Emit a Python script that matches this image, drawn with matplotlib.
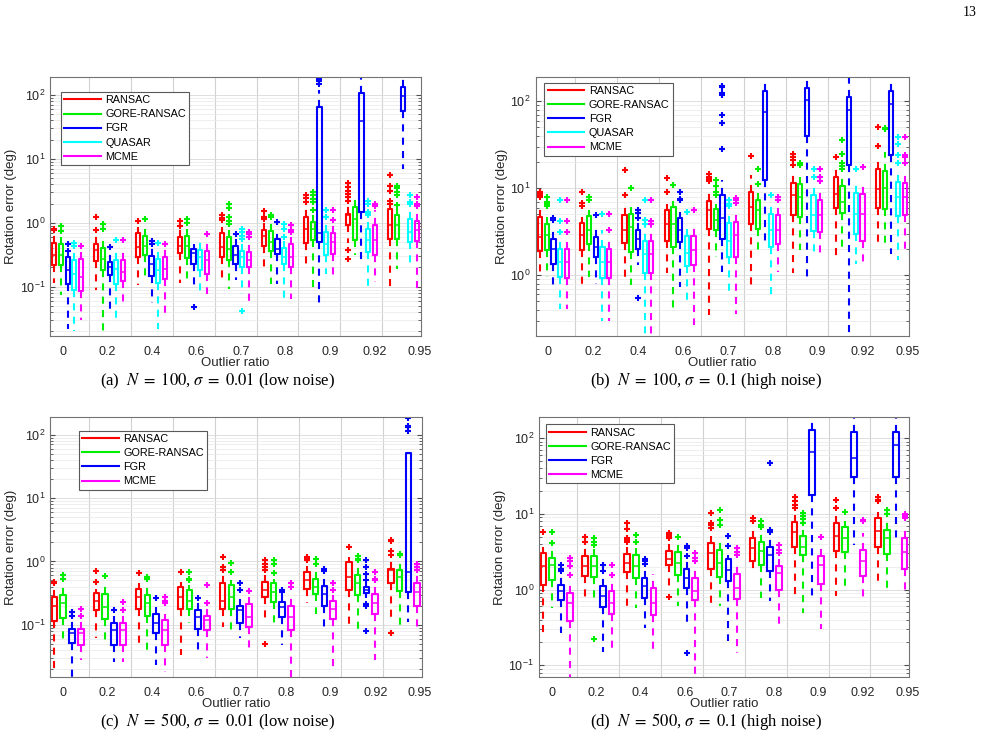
import numpy as np
import matplotlib.pyplot as plt
from matplotlib.lines import Line2D

plt.rcParams['font.family'] = 'Liberation Sans'
plt.rcParams['font.size'] = 8.5
plt.rcParams['mathtext.fontset'] = 'custom'
plt.rcParams['mathtext.rm'] = 'Liberation Sans'
plt.rcParams['mathtext.it'] = 'Liberation Sans:italic'

ratios = ['0', '0.2', '0.4', '0.6', '0.7', '0.8', '0.9', '0.92', '0.95']

# each row: (whisker low, q1, median, q3, whisker high) per outlier ratio
##### (a) N=100, sigma=0.01 #####
a_ransac = [(0.115, 0.22, 0.31, 0.48, 0.67), (0.09, 0.25, 0.37, 0.47, 0.63), (0.105, 0.29, 0.42, 0.69, 0.86),
            (0.115, 0.34, 0.44, 0.60, 0.81), (0.12, 0.29, 0.42, 0.69, 0.86), (0.18, 0.43, 0.63, 0.76, 1.09),
            (0.23, 0.48, 0.81, 1.25, 1.65), (0.48, 0.91, 1.3, 1.38, 2.1), (0.083, 0.56, 0.91, 1.65, 1.98)]
a_ransac_fl = [[0.81, 0.76], [1.25, 0.78], [1.06], [1.06, 0.89], [1.3, 1.2, 1.1], [1.52, 1.25, 1.15],
               [2.67, 2.45, 2.1], [4.2, 3.6, 3.1, 2.8, 2.5, 2.2, 0.37, 0.27], [5.6, 3.8, 3.1, 2.2, 2.0]]
a_gore = [(0.073, 0.22, 0.31, 0.47, 0.63), (0.016, 0.18, 0.27, 0.41, 0.60), (0.13, 0.31, 0.44, 0.63, 0.81),
          (0.11, 0.28, 0.44, 0.63, 0.81), (0.093, 0.26, 0.39, 0.60, 0.76), (0.11, 0.36, 0.50, 0.74, 0.96),
          (0.088, 0.53, 0.81, 1.02, 1.47), (0.31, 0.53, 1.15, 1.75, 2.8), (0.19, 0.56, 0.91, 1.3, 1.75)]
a_gore_fl = [[0.9, 0.74], [0.96, 0.8], [1.13], [1.15, 1.0], [1.93, 1.7, 1.25, 1.06, 0.94], [1.33, 1.25],
             [3.0, 2.67, 2.37, 2.1, 1.6], [], [3.8, 3.5, 3.0, 2.7, 1.9]]
a_fgr = [(0.022, 0.11, 0.18, 0.29, 0.33), (0.045, 0.15, 0.20, 0.24, 0.35), (0.055, 0.146, 0.23, 0.30, 0.42),
         (0.09, 0.23, 0.34, 0.39, 0.47), (0.126, 0.23, 0.31, 0.44, 0.56), (0.11, 0.32, 0.39, 0.56, 0.67),
         (0.048, 0.5, 0.7, 64, 120), (0.26, 1.47, 39.5, 107, 200), (7.0, 55, 97, 134, 200)]
a_fgr_fl = [[0.46, 0.36], [0.42], [0.51, 0.47], [0.049], [0.67], [1.02], [178, 167, 147], [], []]
a_quasar = [(0.02, 0.088, 0.16, 0.26, 0.37), (0.03, 0.11, 0.19, 0.26, 0.42), (0.022, 0.115, 0.18, 0.27, 0.39),
            (0.078, 0.18, 0.29, 0.38, 0.56), (0.078, 0.20, 0.29, 0.36, 0.50), (0.06, 0.23, 0.29, 0.41, 0.53),
            (0.16, 0.31, 0.47, 0.72, 1.09), (0.083, 0.35, 0.53, 0.79, 1.22), (0.22, 0.50, 0.72, 1.15, 1.65)]
a_quasar_fl = [[0.48, 0.43], [0.53], [0.48], [], [0.81, 0.72, 0.63, 0.56, 0.042], [0.96, 0.81, 0.6],
               [1.56, 1.22], [2.2, 2.0, 1.47, 1.38, 1.3], [2.7, 2.1, 2.0]]
a_mcme = [(0.03, 0.086, 0.14, 0.27, 0.35), (0.05, 0.125, 0.17, 0.26, 0.39), (0.034, 0.13, 0.19, 0.29, 0.39),
          (0.078, 0.16, 0.26, 0.36, 0.50), (0.06, 0.20, 0.26, 0.35, 0.50), (0.065, 0.20, 0.29, 0.47, 0.60),
          (0.126, 0.33, 0.50, 0.69, 0.96), (0.12, 0.31, 0.53, 0.91, 1.56), (0.09, 0.51, 0.76, 1.05, 1.47)]
a_mcme_fl = [[0.44], [0.53], [0.46], [0.66], [0.72, 0.67, 0.6], [0.91, 0.76, 0.72], [1.56, 1.11],
             [2.0, 1.86], [2.5, 1.93, 1.8]]

##### (b) N=100, sigma=0.1 #####
b_ransac = [(1.05, 1.9, 2.75, 4.7, 5.6), (0.73, 1.94, 2.9, 4.0, 4.7), (0.84, 2.35, 3.3, 4.9, 6.1),
            (1.05, 2.5, 3.9, 5.6, 6.6), (0.35, 3.4, 5.6, 7.2, 9.8), (0.70, 3.85, 6.1, 9.0, 14),
            (1.05, 4.9, 8.3, 11.4, 14), (1.49, 6.0, 8.6, 13.6, 17.5), (2.2, 6.0, 9.85, 16.7, 22.8)]
b_ransac_fl = [[9.0, 8.6, 8.3, 7.9], [9.0, 6.7, 6.2], [16.3, 8.3], [13.2, 9.0], [14.6, 13.4, 12.6, 12.1],
               [23.4], [24.5, 22.8, 21.3, 18.3], [22.8], [50.3, 30.2]]
b_gore = [(0.96, 1.97, 2.9, 3.9, 5.1), (0.96, 2.3, 3.3, 4.75, 5.6), (0.77, 1.85, 3.6, 5.1, 6.1),
          (0.41, 2.1, 3.9, 6.1, 7.2), (1.62, 3.3, 4.35, 5.8, 6.6), (1.77, 3.4, 5.6, 7.4, 9.0),
          (1.93, 4.7, 7.9, 11.2, 13.4), (2.0, 5.2, 6.9, 10.5, 13.4), (2.3, 5.8, 10.0, 15.6, 26)]
b_gore_fl = [[7.9, 6.9, 6.6, 6.3], [7.9, 7.4], [10.1], [11.0], [12.5, 10.5, 9.0, 8.4], [16.7, 11.3],
             [19.7, 18.3], [35.5, 24.5, 19.4, 17.8, 16.7], [49.5, 48]]
b_fgr = [(0.70, 1.34, 2.0, 2.6, 3.6), (0.80, 1.62, 2.1, 2.75, 3.75), (1.3, 2.0, 2.6, 3.3, 4.3),
         (0.73, 2.4, 3.3, 4.5, 5.3), (1.09, 2.6, 4.5, 8.3, 12.3), (2.3, 12.5, 76, 130, 200),
         (0.84, 40, 104, 142, 200), (0.15, 18.3, 80, 111, 200), (1.77, 24, 93, 130, 200)]
b_fgr_fl = [[4.5, 4.3], [4.9], [5.6, 5.2, 4.5, 0.55], [9.0, 7.6, 7.3], [150, 144, 124, 118, 70, 56, 28],
            [], [], [], []]
b_quasar = [(0.41, 0.96, 1.42, 2.0, 2.4), (0.30, 0.92, 1.42, 2.1, 3.3), (0.15, 1.06, 1.77, 2.5, 3.6),
            (0.52, 1.27, 1.8, 2.8, 3.4), (0.62, 1.62, 2.5, 4.0, 5.6), (0.52, 2.1, 3.3, 5.0, 6.9),
            (1.77, 3.2, 4.9, 8.3, 10.3), (1.36, 2.95, 5.1, 8.8, 11.3), (1.49, 4.75, 7.9, 11.8, 14.6)]
b_quasar_fl = [[7.4, 4.2, 3.1], [5.0], [7.3, 4.3, 3.9], [5.3], [7.3, 6.6, 6.3], [8.3], [16.7, 13.4],
               [16.7], [38.6, 32.4, 23.8, 19.4]]
b_mcme = [(0.41, 0.94, 1.42, 2.0, 2.4), (0.30, 0.92, 1.42, 2.0, 2.75), (0.15, 1.05, 1.77, 2.5, 3.6),
          (0.27, 1.3, 1.93, 2.8, 3.9), (0.36, 1.62, 2.9, 4.1, 4.9), (1.09, 2.3, 3.3, 4.9, 6.1),
          (1.62, 3.1, 4.9, 7.4, 9.4), (1.36, 2.5, 5.1, 8.6, 11.3), (1.93, 4.9, 7.9, 11.4, 14)]
b_mcme_fl = [[7.4, 4.2, 3.1], [5.0, 3.3], [7.3, 4.2, 3.9], [5.6], [7.8, 7.4, 6.8], [7.9, 7.4],
             [16.7, 13.4, 12.1], [17.5], [38.6, 23.8, 22.8, 19.4]]

##### (c) N=500, sigma=0.01 #####
c_ransac = [(0.018, 0.115, 0.20, 0.27, 0.37), (0.063, 0.17, 0.24, 0.32, 0.37), (0.042, 0.18, 0.27, 0.37, 0.45),
            (0.033, 0.18, 0.27, 0.39, 0.47), (0.093, 0.18, 0.24, 0.46, 0.64), (0.105, 0.27, 0.35, 0.47, 0.60),
            (0.22, 0.37, 0.50, 0.68, 0.86), (0.093, 0.35, 0.57, 0.98, 1.17), (0.11, 0.45, 0.72, 0.77, 1.1)]
c_ransac_fl = [[0.47, 0.45], [0.70, 0.47], [0.66], [0.68], [1.17, 0.81, 0.72], [1.06, 0.92, 0.81, 0.72, 0.05],
               [1.17, 1.1, 1.04], [1.7], [2.2, 2.1, 1.45, 1.24, 0.075]]
c_gore = [(0.054, 0.13, 0.22, 0.30, 0.47), (0.05, 0.125, 0.19, 0.31, 0.45), (0.033, 0.14, 0.22, 0.29, 0.45),
          (0.105, 0.18, 0.24, 0.35, 0.42), (0.068, 0.18, 0.27, 0.42, 0.50), (0.09, 0.23, 0.33, 0.45, 0.53),
          (0.15, 0.31, 0.39, 0.53, 0.68), (0.087, 0.30, 0.45, 0.60, 0.81), (0.093, 0.34, 0.57, 0.74, 0.92)]
c_gore_fl = [[0.6, 0.53], [0.58], [0.57, 0.53], [0.68, 0.53, 0.5], [0.94, 0.68], [1.06, 0.9, 0.66],
             [1.1, 0.9], [1.2, 1.1, 1.04], [1.32, 1.24]]
c_fgr = [(0.015, 0.052, 0.073, 0.087, 0.125), (0.026, 0.048, 0.082, 0.105, 0.14), (0.023, 0.073, 0.105, 0.15, 0.19),
         (0.035, 0.087, 0.133, 0.17, 0.23), (0.061, 0.105, 0.17, 0.20, 0.26), (0.048, 0.133, 0.19, 0.23, 0.29),
         (0.077, 0.20, 0.31, 0.41, 0.60), (0.26, 0.32, 0.35, 0.39, 0.47), (0.11, 0.33, 0.68, 52, 52)]
c_fgr_fl = [[0.16, 0.14], [0.17], [0.26], [0.26], [0.46, 0.35], [0.35, 0.33], [0.77, 0.7],
            [1.04, 0.81, 0.64, 0.5, 0.21, 0.2, 0.08], [180, 138, 131, 115]]
c_mcme = [(0.028, 0.048, 0.073, 0.087, 0.118), (0.026, 0.048, 0.082, 0.107, 0.15), (0.018, 0.048, 0.082, 0.118, 0.15),
          (0.03, 0.082, 0.118, 0.14, 0.18), (0.042, 0.093, 0.133, 0.21, 0.27), (0.015, 0.082, 0.133, 0.20, 0.31),
          (0.02, 0.125, 0.18, 0.24, 0.29), (0.028, 0.15, 0.22, 0.31, 0.39), (0.082, 0.20, 0.33, 0.46, 0.60)]
c_mcme_fl = [[0.18, 0.14], [0.23, 0.17], [0.27, 0.24, 0.22], [0.42, 0.22], [0.34], [0.45, 0.39],
             [0.45, 0.36], [0.68, 0.53, 0.5], [0.92, 0.81, 0.72]]

##### (d) N=500, sigma=0.1 #####
d_ransac = [(0.255, 1.16, 2.03, 3.05, 3.7), (0.70, 1.53, 2.03, 2.8, 3.7), (0.57, 1.7, 2.25, 2.95, 3.7),
            (1.0, 2.1, 2.5, 3.2, 4.3), (0.67, 1.89, 3.05, 4.1, 5.05), (1.74, 2.4, 3.55, 4.8, 5.85),
            (0.82, 3.6, 5.75, 7.7, 9.7), (0.82, 3.2, 5.05, 7.55, 9.25), (1.07, 3.7, 5.85, 8.8, 10.7)]
d_ransac_fl = [[5.75], [5.0, 4.3], [7.6, 6.35, 4.8, 4.55, 4.3], [5.6, 5.3, 5.05, 4.8, 0.79], [10.2, 7.6, 7.05, 6.5],
               [8.8, 7.95], [16.9, 14.9, 12.9, 11.9], [15.3, 11.9], [16.5, 15.3, 14.6]]
d_gore = [(0.57, 1.35, 2.13, 2.6, 3.2), (0.78, 1.45, 2.03, 2.75, 3.4), (0.57, 1.4, 2.03, 2.85, 3.5),
          (0.6, 1.58, 2.25, 3.1, 3.9), (0.6, 1.45, 2.25, 3.3, 4.1), (0.78, 2.13, 3.2, 4.3, 5.6),
          (0.49, 2.85, 3.7, 5.05, 6.2), (1.0, 3.15, 4.8, 6.6, 7.95), (0.9, 2.95, 4.8, 6.2, 8.8)]
d_gore_fl = [[5.7, 4.1], [4.8, 4.3, 3.9, 0.22], [5.3, 4.25], [4.9], [11.1, 8.35, 7.2], [8.1, 7.2, 6.6],
             [10.2, 9.25, 8.6, 7.55], [10.6], [11.3, 10]]
d_fgr = [(0.27, 0.72, 0.95, 1.16, 1.54), (0.15, 0.58, 0.82, 1.13, 1.5), (0.31, 0.78, 1.1, 1.42, 1.93),
         (0.36, 1.05, 1.42, 1.89, 2.5), (0.21, 1.29, 1.83, 2.5, 2.9), (0.70, 1.74, 2.85, 3.7, 4.8),
         (0.82, 17.5, 65, 128, 200), (3.9, 31, 54, 122, 200), (4.1, 31, 81, 120, 200)]
d_fgr_fl = [[2.1, 1.89, 1.78], [2.1, 1.74], [2.5, 2.36, 2.18], [3.8, 3.5, 2.75, 0.146], [5.15, 3.8],
            [46.5, 6.2, 5.75], [], [], []]
d_mcme = [(0.07, 0.39, 0.67, 0.9, 1.29), (0.167, 0.48, 0.67, 0.97, 1.29), (0.16, 0.46, 0.67, 1.05, 1.6),
          (0.076, 0.72, 0.95, 1.42, 2.03), (0.146, 0.74, 1.05, 1.6, 2.13), (0.33, 1.0, 1.66, 2.03, 2.5),
          (0.3, 1.19, 2.13, 2.75, 3.8), (0.78, 1.5, 2.4, 3.35, 5.6), (0.9, 1.89, 3.15, 4.8, 6.2)]
d_mcme_fl = [[2.6, 2.4, 2.03, 1.58], [2.13, 1.54], [], [3.05, 2.6, 2.4], [3.55, 3.1, 2.85], [3.9, 3.35, 3.05],
             [4.9], [8.35, 7.95], [10, 9.25, 8.8]]

names5 = ['RANSAC', 'GORE-RANSAC', 'FGR', 'QUASAR', 'MCME']
cols5 = ['#ff0000', '#00ee00', '#0000ff', '#00ffff', '#ff00ff']
names4 = ['RANSAC', 'GORE-RANSAC', 'FGR', 'MCME']
cols4 = ['#ff0000', '#00ee00', '#0000ff', '#ff00ff']


def panel(ax, series, names, cols, ylim, leg_xy):
    n = len(series)
    step = 0.159 if n == 5 else 0.21
    width = 0.10 if n == 5 else 0.135
    for k in range(8):
        ax.axvline(k + 0.5, color='0.82', lw=0.8, zorder=0.5)
    for j, (five, fl) in enumerate(series):
        stats = []
        for row, out in zip(five, fl):
            lo, q1, med, q3, hi = row
            stats.append(dict(whislo=lo, q1=q1, med=med, q3=q3, whishi=hi, fliers=out))
        pos = np.arange(9) + (j - (n - 1) / 2) * step
        c = cols[j]
        ax.bxp(stats, positions=pos, widths=width, showcaps=False, manage_ticks=False,
               boxprops=dict(color=c, lw=1.5),
               medianprops=dict(color=c, lw=1.1),
               whiskerprops=dict(color=c, lw=1.5, linestyle=(0, (3.4, 3))),
               flierprops=dict(marker='+', markeredgecolor=c, markersize=4.5, mew=1.5, linestyle='none'))
    ax.set_yscale('log')
    ax.set_ylim(*ylim)
    ax.set_xlim(-0.42, 8.42)
    ax.set_xticks(np.linspace(-0.12, 8.38, 9))
    ax.set_xticklabels(ratios)
    ax.tick_params(axis='x', length=0, pad=7, labelsize=9, colors='0.15')
    ax.tick_params(axis='y', which='both', direction='in', right=True, colors='0.3',
                   labelcolor='0.15', labelsize=9)
    ax.tick_params(axis='y', which='major', length=3.5)
    ax.tick_params(axis='y', which='minor', length=2)
    ax.grid(True, which='major', axis='y', color='0.85', lw=0.6)
    ax.grid(True, which='minor', axis='y', color='0.91', lw=0.5)
    ax.set_axisbelow(True)
    for s in ax.spines.values():
        s.set_color('0.45')
        s.set_linewidth(0.8)
    ax.set_xlabel('Outlier ratio', fontsize=9.5, labelpad=-0.5, color='0.15')
    ax.set_ylabel('Rotation error (deg)', fontsize=9.5, labelpad=2, color='0.15')
    handles = [Line2D([0], [0], color=c, lw=1.5) for c in cols]
    leg = ax.legend(handles, names, loc='upper left', bbox_to_anchor=leg_xy, fancybox=False,
                    edgecolor='0.35', framealpha=1, handlelength=3.4, labelspacing=0.38,
                    borderpad=0.3, handletextpad=0.4, borderaxespad=0, fontsize=7.8)
    leg.get_frame().set_linewidth(0.8)


fig = plt.figure(figsize=(9.83, 7.43), dpi=100)
ax_a = fig.add_axes([0.0509, 0.5478, 0.3774, 0.3486])
ax_b = fig.add_axes([0.5450, 0.5478, 0.3798, 0.3486])
ax_c = fig.add_axes([0.0509, 0.0888, 0.3781, 0.3500])
ax_d = fig.add_axes([0.5483, 0.0888, 0.3764, 0.3500])

panel(ax_a, [(a_ransac, a_ransac_fl), (a_gore, a_gore_fl), (a_fgr, a_fgr_fl), (a_quasar, a_quasar_fl),
             (a_mcme, a_mcme_fl)], names5, cols5, (0.017, 190), (0.030, 0.942))
panel(ax_b, [(b_ransac, b_ransac_fl), (b_gore, b_gore_fl), (b_fgr, b_fgr_fl), (b_quasar, b_quasar_fl),
             (b_mcme, b_mcme_fl)], names5, cols5, (0.2, 190), (0.023, 0.978))
panel(ax_c, [(c_ransac, c_ransac_fl), (c_gore, c_gore_fl), (c_fgr, c_fgr_fl), (c_mcme, c_mcme_fl)],
      names4, cols4, (0.015, 190), (0.078, 0.947))
panel(ax_d, [(d_ransac, d_ransac_fl), (d_gore, d_gore_fl), (d_fgr, d_fgr_fl), (d_mcme, d_mcme_fl)],
      names4, cols4, (0.07, 190), (0.019, 0.972))

cap = dict(ha='center', va='center', family='Liberation Serif', math_fontfamily='stix', fontsize=12)
fig.text(217 / 983, 1 - 381 / 743, r'(a)  $N\;=\;100$, $\sigma\;=\;0.01$ (low noise)', **cap)
fig.text(706 / 983, 1 - 381 / 743, r'(b)  $N\;=\;100$, $\sigma\;=\;0.1$ (high noise)', **cap)
fig.text(217 / 983, 1 - 722 / 743, r'(c)  $N\;=\;500$, $\sigma\;=\;0.01$ (low noise)', **cap)
fig.text(706 / 983, 1 - 722 / 743, r'(d)  $N\;=\;500$, $\sigma\;=\;0.1$ (high noise)', **cap)
fig.text(970 / 983, 1 - 12 / 743, '13', ha='center', va='center', family='Liberation Serif', fontsize=10)

fig.savefig('out.png', dpi=100)
